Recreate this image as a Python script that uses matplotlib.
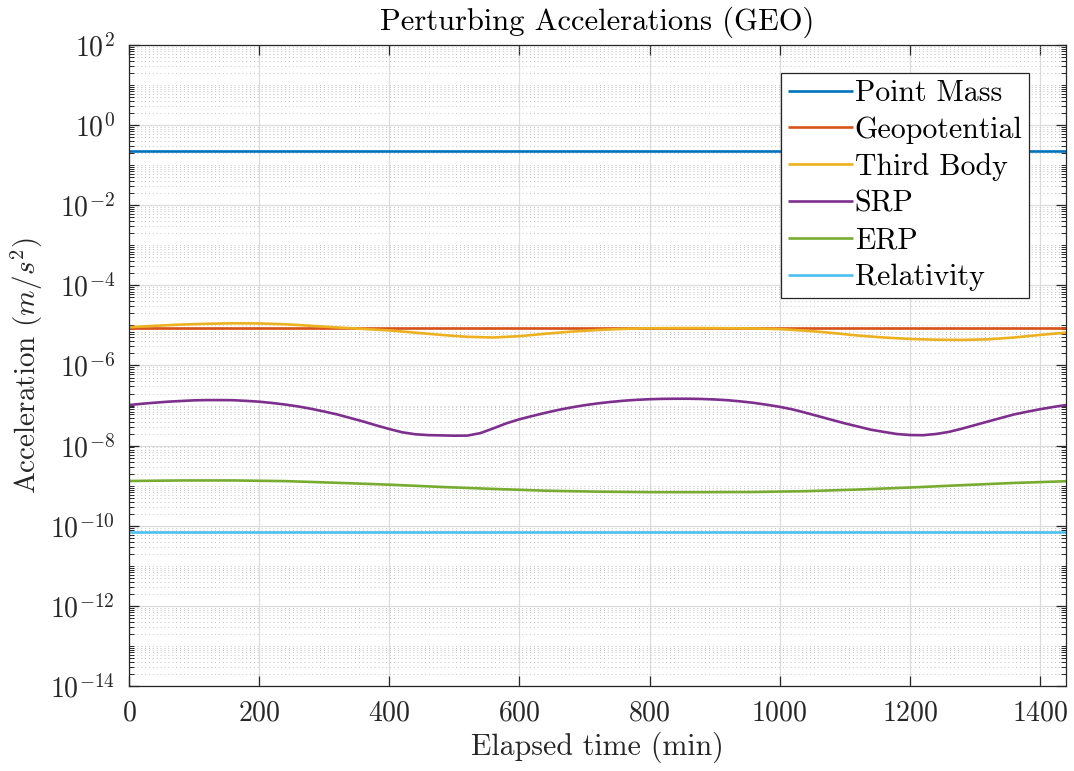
import numpy as np
import matplotlib
matplotlib.use("Agg")
import matplotlib.pyplot as plt
from matplotlib.ticker import LogLocator, FixedLocator, NullFormatter

plt.rcParams['font.family'] = 'serif'
plt.rcParams['font.serif'] = ['cmr10']
plt.rcParams['mathtext.fontset'] = 'cm'
plt.rcParams['axes.formatter.use_mathtext'] = True
plt.rcParams['axes.unicode_minus'] = False

# ---- data ----
t_flat = [0, 1440]
point_mass = [0.224, 0.224]
geopotential = [8.4e-6, 8.4e-6]
relativity = [6.85e-11, 6.85e-11]

t40 = [0, 40, 80, 120, 160, 200, 240, 280, 320, 360, 400, 440, 480, 520, 560,
       600, 640, 680, 720, 760, 800, 840, 880, 920, 960, 1000, 1040, 1080, 1120,
       1160, 1200, 1240, 1280, 1320, 1360, 1400, 1440]
third_body = [9.0e-6, 9.8e-6, 1.05e-5, 1.10e-5, 1.13e-5, 1.12e-5, 1.07e-5, 9.8e-6,
              8.9e-6, 8.2e-6, 7.5e-6, 6.6e-6, 5.8e-6, 5.2e-6, 5.0e-6, 5.4e-6,
              6.2e-6, 7.0e-6, 7.7e-6, 8.2e-6, 8.5e-6, 8.6e-6, 8.6e-6, 8.5e-6,
              8.4e-6, 8.1e-6, 7.4e-6, 6.5e-6, 5.6e-6, 5.0e-6, 4.6e-6, 4.4e-6,
              4.35e-6, 4.5e-6, 5.0e-6, 5.8e-6, 6.6e-6]

t20 = [0, 20, 40, 60, 80, 100, 120, 140, 160, 180, 200, 220, 240, 260, 280, 300,
       320, 340, 360, 380, 400, 420, 440, 460, 480, 500, 520, 540, 560, 580, 600,
       620, 640, 660, 680, 700, 720, 740, 760, 780, 800, 820, 840, 860, 880, 900,
       920, 940, 960, 980, 1000, 1020, 1040, 1060, 1080, 1100, 1120, 1140, 1160,
       1180, 1200, 1220, 1240, 1260, 1280, 1300, 1320, 1340, 1360, 1380, 1400,
       1420, 1440]
srp = [1.03e-7, 1.11e-7, 1.18e-7, 1.25e-7, 1.30e-7, 1.35e-7, 1.37e-7, 1.37e-7,
       1.36e-7, 1.31e-7, 1.25e-7, 1.16e-7, 1.06e-7, 9.5e-8, 8.3e-8, 7.1e-8,
       6.0e-8, 4.9e-8, 4.0e-8, 3.2e-8, 2.6e-8, 2.15e-8, 1.92e-8, 1.83e-8,
       1.80e-8, 1.77e-8, 1.78e-8, 2.05e-8, 2.7e-8, 3.6e-8, 4.55e-8,
       5.5e-8, 6.6e-8, 7.8e-8, 9.0e-8, 1.02e-7, 1.13e-7, 1.23e-7, 1.32e-7,
       1.39e-7, 1.44e-7, 1.47e-7, 1.48e-7, 1.48e-7, 1.46e-7, 1.42e-7, 1.36e-7,
       1.27e-7, 1.17e-7, 1.05e-7, 9.3e-8, 8.0e-8, 6.6e-8, 5.4e-8, 4.4e-8,
       3.6e-8, 3.0e-8, 2.5e-8, 2.2e-8, 1.95e-8, 1.84e-8, 1.82e-8, 1.95e-8,
       2.2e-8, 2.65e-8, 3.25e-8, 4.0e-8, 4.9e-8, 6.0e-8, 7.0e-8, 8.1e-8,
       9.2e-8, 1.03e-7]

t80 = [0, 80, 160, 240, 320, 400, 480, 560, 640, 720, 800, 880, 960, 1040,
       1120, 1200, 1280, 1360, 1440]
erp = [1.31e-9, 1.35e-9, 1.35e-9, 1.30e-9, 1.18e-9, 1.06e-9, 9.3e-10, 8.3e-10,
       7.5e-10, 7.1e-10, 6.9e-10, 6.9e-10, 6.95e-10, 7.3e-10, 8.0e-10, 9.0e-10,
       1.03e-9, 1.17e-9, 1.29e-9]

labels = ['Point Mass', 'Geopotential', 'Third Body', 'SRP', 'ERP', 'Relativity']
colors = ['#0072BD', '#D95319', '#EDB120', '#7E2F8E', '#77AC30', '#4DBEEE']
xticks = [0, 200, 400, 600, 800, 1000, 1200, 1400]
yticks = [1e-14, 1e-12, 1e-10, 1e-8, 1e-6, 1e-4, 1e-2, 1e0, 1e2]

fig = plt.figure(figsize=(10.74, 7.71), dpi=100)
ax = fig.add_axes([129/1074, 1 - 686/771, 937/1074, 641/771])

series = [(t_flat, point_mass), (t_flat, geopotential), (t40, third_body),
          (t20, srp), (t80, erp), (t_flat, relativity)]
for (tt, yy), lab, c in zip(series, labels, colors):
    ax.plot(tt, yy, color=c, lw=1.9, label=lab, solid_capstyle='butt',
            solid_joinstyle='round')

ax.set_yscale('log')
ax.set_xlim(0, 1440)
ax.set_ylim(1e-14, 1e2)
ax.xaxis.set_major_locator(FixedLocator(xticks))
ax.yaxis.set_major_locator(FixedLocator(yticks))
ax.yaxis.set_minor_locator(LogLocator(base=10, subs=np.arange(1, 10), numticks=100))
ax.yaxis.set_minor_formatter(NullFormatter())

ax.grid(True, which='major', color='#dcdcdc', lw=0.9, ls='-')
ax.grid(True, which='minor', axis='y', color='#c4c4c4', lw=0.7, ls=(0, (1, 3)))
ax.set_axisbelow(True)

dark = '#262626'
for s in ax.spines.values():
    s.set_color(dark)
    s.set_linewidth(0.9)
ax.tick_params(which='both', direction='in', top=True, right=True, colors=dark,
               labelcolor=dark)
ax.tick_params(which='major', length=7, width=0.9, labelsize=20, pad=10)
ax.tick_params(which='minor', length=3.6, width=0.7)
ax.tick_params(axis='x', which='minor', top=False, bottom=False)

ax.set_title('Perturbing Accelerations (GEO)', fontsize=22, color='black', pad=11)
ax.set_xlabel('Elapsed time (min)', fontsize=21.5, color=dark, labelpad=4)
ax.set_ylabel(r'Acceleration $(m/s^2)$', fontsize=21, color=dark, labelpad=4)

leg = ax.legend(loc='upper right', bbox_to_anchor=((1029 - 129) / 937, (686 - 73) / 641),
                borderaxespad=0, fontsize=21.5, frameon=True, fancybox=False,
                edgecolor=dark, framealpha=1, handlelength=2.2, handletextpad=0.04,
                labelspacing=0.31, borderpad=0.22)
leg.get_frame().set_linewidth(0.9)

fig.savefig('out.png', dpi=100)
